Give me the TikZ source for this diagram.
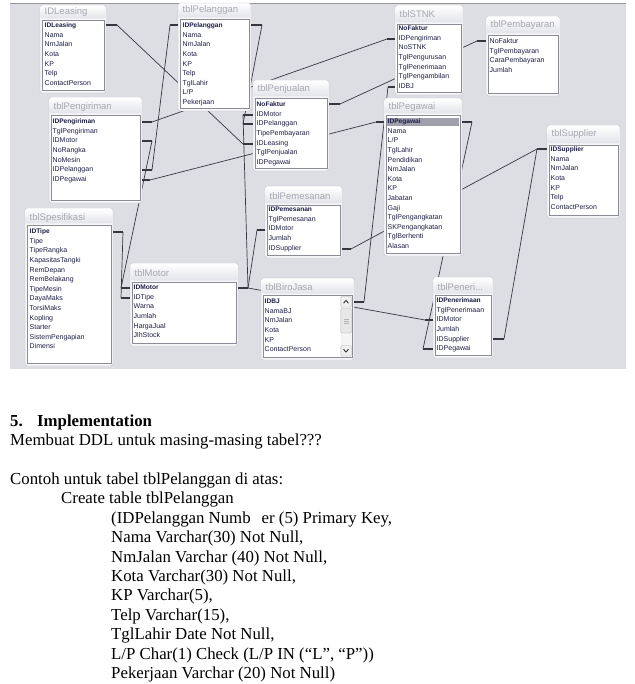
\documentclass[tikz,border=0pt]{standalone}
\usepackage{fontspec}
\setmainfont{Liberation Serif}
\newfontfamily\dbfont{Liberation Sans}
\definecolor{bggray}{RGB}{221,222,227}
\definecolor{winbg}{RGB}{246,246,248}
\definecolor{winbd}{RGB}{196,197,205}
\definecolor{titlebot}{RGB}{226,227,233}
\definecolor{ttlcol}{RGB}{165,166,176}
\definecolor{listbd}{RGB}{140,140,150}
\definecolor{fieldcol}{RGB}{30,30,70}
\definecolor{relcol}{RGB}{55,55,65}
\definecolor{hilite}{RGB}{160,160,172}
\tikzset{
  rel/.style={draw=relcol, line width=0.7pt},
  stub/.style={draw=relcol, line width=1.2pt},
  fld/.style={anchor=west, inner sep=0pt, text height=5pt, text depth=1.6pt, font=\dbfont\fontsize{7}{8}\selectfont, text=fieldcol},
  fpk/.style={fld, font=\dbfont\bfseries\fontsize{6.6}{8}\selectfont},
  ttl/.style={anchor=west, inner sep=0pt, font=\dbfont\fontsize{9.5}{11}\selectfont, text=ttlcol},
  doc/.style={anchor=base west, inner sep=0pt, font=\fontsize{16.8}{19.4}\selectfont},
  docb/.style={doc, font=\fontsize{16.8}{19.4}\selectfont\bfseries},
}
% #1 xl, #2 ytop, #3 xr, #4 title y, #5 list top, #6 list bottom, #7 title, #8 name
\newcommand\tblwin[8]{%
  \path[draw=winbd, fill=winbg, rounded corners=2.5pt] (#1,#2) rectangle (#3,#6+3);
  \shade[top color=white, bottom color=titlebot, rounded corners=2pt] (#1+0.6,#2+0.6) rectangle (#3-0.6,#5-1.5);
  \node[ttl] (#8) at (#1+4.5,#4) {#7};
  \draw[listbd, fill=white] (#1+2,#5) rectangle (#3-2,#6);
}
% #1 x, #2 first y, #3 key, #4 list, #5 prefix
\newcommand\fields[5]{%
  \node[fpk] (#5-0) at (#1,#2) {#3};
  \foreach \f [count=\i] in {#4} \node[fld] (#5-\i) at (#1,#2+\i*9.6) {\f};
}
\newcommand\plainfields[4]{%
  \foreach \f [count=\i from 0] in {#3} \node[fld] (#4-\i) at (#1,#2+\i*9.6) {\f};
}
\begin{document}
\begin{tikzpicture}[x=1pt,y=-1pt]
\useasboundingbox (0,0) rectangle (634,684);
\fill[bggray] (10,3) rectangle (626,369);
\draw[gray!80, line width=0.8pt] (10,3.4) -- (626,3.4);

% stub end coordinates
\coordinate (leasR) at (117,25);   \coordinate (leasRb) at (106,25);
\coordinate (penjLeas) at (243,144); \coordinate (penjLeasb) at (253,144);
\coordinate (pelL) at (170,25);    \coordinate (pelLb) at (178,25);
\coordinate (pengPel) at (152,170); \coordinate (pengPelb) at (142,170);
\coordinate (pelR) at (262,25);    \coordinate (pelRb) at (251,25);
\coordinate (penjPel) at (243,124); \coordinate (penjPelb) at (253,124);
\coordinate (pengID) at (152,122); \coordinate (pengIDb) at (142,122);
\coordinate (stnkPeng) at (387,39); \coordinate (stnkPengb) at (395,39);
\coordinate (pengMot) at (152,141); \coordinate (pengMotb) at (142,141);
\coordinate (motL) at (121,288);   \coordinate (motLb) at (130,288);
\coordinate (pengPeg) at (150,180); \coordinate (pengPegb) at (142,180);
\coordinate (pegL) at (376,122);   \coordinate (pegLb) at (384,122);
\coordinate (motR) at (248,288);   \coordinate (motRb) at (238,288);
\coordinate (penjMot) at (243,115); \coordinate (penjMotb) at (253,115);
\coordinate (pemMot) at (257,230); \coordinate (pemMotb) at (265,230);
\coordinate (penMot) at (425,320); \coordinate (penMotb) at (433,320);
\coordinate (speR) at (123,232);   \coordinate (speRb) at (113,232);
\coordinate (motTipe) at (121,298); \coordinate (motTipeb) at (130,298);
\coordinate (penjNF) at (340,104); \coordinate (penjNFb) at (329,104);
\coordinate (bayNF) at (477,41);   \coordinate (bayNFb) at (486,41);
\coordinate (stnkBJ) at (388,87);  \coordinate (stnkBJb) at (395,87);
\coordinate (bjR) at (364,302);    \coordinate (bjRb) at (354,302);
\coordinate (pegR) at (472,122);   \coordinate (pegRb) at (462,122);
\coordinate (penPeg) at (423,349); \coordinate (penPegb) at (433,349);
\coordinate (supL) at (537,149);   \coordinate (supLb) at (547,149);
\coordinate (pemSup) at (351,249); \coordinate (pemSupb) at (342,249);
\coordinate (penSup) at (504,339); \coordinate (penSupb) at (493,339);

% relationship lines (behind the windows)
\draw[rel] (leasR) -- (penjLeas);
\draw[rel] (pelL) -- (pengPel);
\draw[rel] (pelR) -- (penjPel);
\draw[rel] (pengID) -- (stnkPeng);
\draw[rel] (pengMot) -- (motL);
\draw[rel] (pengPeg) -- (pegL);
\draw[rel] (motR) -- (penjMot);
\draw[rel] (motR) -- (pemMot);
\draw[rel] (motR) -- (penMot);
\draw[rel] (speR) -- (motTipe);
\draw[rel] (penjNF) -- (bayNF);
\draw[rel] (stnkBJ) -- (bjR);
\draw[rel] (pegR) -- (penPeg);
\draw[rel] (supL) -- (pemSup);
\draw[rel] (supL) -- (penSup);

% windows
\tblwin{40}{5}{106}{12}{20}{90}{IDLeasing}{tLeasing}
\fields{44.5}{26}{IDLeasing}{Nama,NmJalan,Kota,KP,Telp,ContactPerson}{fLeas}

\tblwin{178}{3}{251}{10}{19}{108}{tblPelanggan}{tPelanggan}
\fields{182.5}{26}{IDPelanggan}{Nama,NmJalan,Kota,KP,Telp,TglLahir,L/P,Pekerjaan}{fPel}

\tblwin{49}{97}{142}{107}{115}{200}{tblPengiriman}{tPengiriman}
\fields{52.5}{122}{IDPengiriman}{TglPengiriman,IDMotor,NoRangka,NoMesin,IDPelanggan,IDPegawai}{fPeng}

\tblwin{253}{80}{329}{89}{98}{168}{tblPenjualan}{tPenjualan}
\fields{256.5}{105}{NoFaktur}{IDMotor,IDPelanggan,TipePembayaran,IDLeasing,TglPenjualan,IDPegawai}{fPenj}

\tblwin{395}{5}{463}{14}{24}{92}{tblSTNK}{tSTNK}
\fields{398.5}{29}{NoFaktur}{IDPengiriman,NoSTNK,TglPengurusan,TglPenerimaan,TglPengambilan,IDBJ}{fSTNK}

\tblwin{486}{16}{560}{25}{35}{93}{tblPembayaran}{tPembayaran}
\plainfields{489.5}{42}{NoFaktur,TglPembayaran,CaraPembayaran,Jumlah}{fBay}

\tblwin{384}{98}{462}{107}{115}{253}{tblPegawai}{tPegawai}
\fill[hilite] (386.6,117.6) rectangle (459.4,126.4);
\fields{387.5}{122}{IDPegawai}{Nama,L/P,TglLahir,Pendidikan,NmJalan,Kota,KP,Jabatan,Gaji,TglPengangkatan,SKPengangkatan,TglBerhenti,Alasan}{fPeg}

\tblwin{547}{125}{620}{134}{145}{215}{tblSupplier}{tSupplier}
\fields{550.5}{150}{IDSupplier}{Nama,NmJalan,Kota,KP,Telp,ContactPerson}{fSup}

\tblwin{25}{208}{113}{218}{225}{363}{tblSpesifikasi}{tSpesifikasi}
\fields{29.5}{232}{IDTipe}{Tipe,TipeRangka,KapasitasTangki,RemDepan,RemBelakang,TipeMesin,DayaMaks,TorsiMaks,Kopling,Starter,SistemPengapian,Dimensi}{fSpe}

\tblwin{130}{263}{238}{273}{282}{343}{tblMotor}{tMotor}
\fields{133.5}{288}{IDMotor}{IDTipe,Warna,Jumlah,HargaJual,JlhStock}{fMot}

\tblwin{265}{186}{342}{196}{205}{255}{tblPemesanan}{tPemesanan}
\fields{268.5}{210}{IDPemesanan}{TglPemesanan,IDMotor,Jumlah,IDSupplier}{fPem}

\tblwin{261}{278}{354}{287}{295}{357}{tblBiroJasa}{tBiroJasa}
\fields{264.5}{302}{IDBJ}{NamaBJ,NmJalan,Kota,KP,ContactPerson}{fBJ}
% scrollbar
\fill[gray!8] (340.5,295.5) rectangle (351.5,356.5);
\draw[gray!60, fill=gray!12, rounded corners=1pt] (340.8,296.5) rectangle (351.2,307);
\draw[gray!60, fill=gray!18, rounded corners=1pt] (340.8,308.5) rectangle (351.2,333);
\draw[gray!60, fill=gray!12, rounded corners=1pt] (340.8,345.5) rectangle (351.2,356);
\draw[black!80, line width=0.9pt] (343.5,303.2) -- (346,300.5) -- (348.5,303.2);
\draw[black!80, line width=0.9pt] (343.5,349.3) -- (346,352) -- (348.5,349.3);
\draw[gray!60] (343.5,319.5) -- (348.5,319.5) (343.5,321.5) -- (348.5,321.5) (343.5,323.5) -- (348.5,323.5);

\tblwin{433}{277}{493}{287}{295}{355}{tblPeneri...}{tPenerimaan}
\fields{436.5}{301}{IDPenerimaan}{TglPenerimaan,IDMotor,Jumlah,IDSupplier,IDPegawai}{fPen}

% stubs
\foreach \s in {leasR,penjLeas,pelL,pengPel,pelR,penjPel,pengID,stnkPeng,pengMot,motL,pengPeg,pegL,motR,penjMot,pemMot,penMot,speR,motTipe,penjNF,bayNF,stnkBJ,bjR,pegR,penPeg,supL,pemSup,penSup}
  \draw[stub] (\s) -- (\s b);

% document text
\node[docb] (n5) at (10,426) {5.};
\node[docb] (impl) at (37,426) {Implementation};
\node[doc] (t1) at (10,445) {Membuat DDL untuk masing-masing tabel???};
\node[doc] (t2) at (10,484) {Contoh untuk tabel tblPelanggan di atas:};
\node[doc] (t3) at (61,503) {Create table tblPelanggan};
\node[doc] (c1) at (111,523) {(IDPelanggan Numb\hspace{11pt}er (5) Primary Key,};
\node[doc] (c2) at (111,542) {Nama Varchar(30) Not Null,};
\node[doc] (c3) at (111,562) {NmJalan Varchar (40) Not Null,};
\node[doc] (c4) at (111,581) {Kota Varchar(30) Not Null,};
\node[doc] (c5) at (111,600) {KP Varchar(5),};
\node[doc] (c6) at (111,620) {Telp Varchar(15),};
\node[doc] (c7) at (111,639) {TglLahir Date Not Null,};
\node[doc] (c8) at (111,659) {L/P Char(1) Check (L/P IN (“L”, “P”))};
\node[doc] (c9) at (111,678) {Pekerjaan Varchar (20) Not Null)};
\end{tikzpicture}
\end{document}
